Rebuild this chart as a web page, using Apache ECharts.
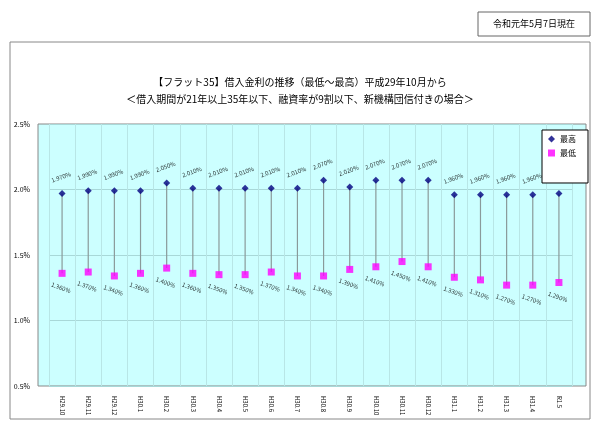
<!DOCTYPE html>
<html><head><meta charset="utf-8">
<script src="https://cdn.jsdelivr.net/npm/echarts@6/dist/echarts.min.js"></script>
<style>body{margin:0;background:#fff}#c{width:600px;height:424px}</style>
</head><body><div id="c"></div>
<script>
var months = ['H29.10','H29.11','H29.12','H30.1','H30.2','H30.3','H30.4','H30.5','H30.6','H30.7','H30.8','H30.9','H30.10','H30.11','H30.12','H31.1','H31.2','H31.3','H31.4','R1.5'];
var highRates = [1.97,1.99,1.99,1.99,2.05,2.01,2.01,2.01,2.01,2.01,2.07,2.02,2.07,2.07,2.07,1.96,1.96,1.96,1.96,1.97];
var lowRates = [1.36,1.37,1.34,1.36,1.40,1.36,1.35,1.35,1.37,1.34,1.34,1.39,1.41,1.45,1.41,1.33,1.31,1.27,1.27,1.29];

var chart = echarts.init(document.getElementById('c'));
var fmt = function (p) { return p.value.toFixed(3) + '%'; };
chart.setOption({
    animation: false,
    textStyle: {fontFamily: 'Noto Sans CJK JP'},
    graphic: [
        {type: 'rect', shape: {x: 478, y: 12, width: 112, height: 24}, style: {fill: '#fff', stroke: '#666', lineWidth: 1}},
        {type: 'text', x: 534, y: 24, style: {text: '令和元年5月7日現在', fontSize: 9, fill: '#000', align: 'center', verticalAlign: 'middle', fontFamily: 'Noto Sans CJK JP'}},
        {type: 'rect', shape: {x: 10, y: 42, width: 580, height: 377}, style: {fill: 'none', stroke: '#888', lineWidth: 1}, z: -1},
        {type: 'rect', shape: {x: 38, y: 124, width: 548, height: 262}, style: {fill: '#ccffff', stroke: '#888', lineWidth: 1}, z: -1},
        {type: 'text', x: 300, y: 82, style: {text: '【フラット35】借入金利の推移（最低～最高）平成29年10月から', fontSize: 10, fill: '#000', align: 'center', verticalAlign: 'middle', fontFamily: 'Noto Sans CJK JP'}},
        {type: 'text', x: 300, y: 99, style: {text: '＜借入期間が21年以上35年以下、融資率が9割以下、新機構団信付きの場合＞', fontSize: 10, fill: '#000', align: 'center', verticalAlign: 'middle', fontFamily: 'Noto Sans CJK JP'}}
    ],
    legend: {
        right: 12, top: 130, orient: 'vertical', itemWidth: 7, itemHeight: 7, itemGap: 6,
        backgroundColor: '#fff', borderColor: '#000', borderWidth: 1, padding: [5, 12, 26, 6],
        textStyle: {fontSize: 8, color: '#000'},
        data: [{name: '最高', icon: 'diamond'}, {name: '最低', icon: 'rect'}]
    },
    grid: {left: 49, right: 28, top: 124, bottom: 38},
    xAxis: {
        type: 'category', data: months,
        axisLine: {show: false},
        axisTick: {show: false},
        splitLine: {show: true, lineStyle: {color: '#b8e6e6'}},
        axisLabel: {rotate: -90, fontSize: 6, color: '#000', interval: 0, margin: 10}
    },
    yAxis: {
        type: 'value', min: 0.5, max: 2.5, interval: 0.5,
        offset: 11,
        axisLabel: {formatter: function (v) { return v.toFixed(1) + '%'; }, fontSize: 7, color: '#000'},
        axisLine: {show: false},
        splitLine: {lineStyle: {color: '#a8d8d8'}}
    },
    series: [
        {
            type: 'custom', silent: true,
            renderItem: function (params, api) {
                var a = api.coord([api.value(0), api.value(1)]);
                var b = api.coord([api.value(0), api.value(2)]);
                return {type: 'line', shape: {x1: a[0], y1: a[1], x2: b[0], y2: b[1]}, style: {stroke: '#8a9a9a', lineWidth: 1.2}};
            },
            data: months.map(function (m, i) { return [i, lowRates[i], highRates[i]]; })
        },
        {
            name: '最高', type: 'scatter', symbol: 'diamond', symbolSize: 7, data: highRates,
            itemStyle: {color: '#000080'},
            label: {show: true, position: 'top', distance: 10, rotate: 20, fontSize: 6, color: '#000', formatter: fmt}
        },
        {
            name: '最低', type: 'scatter', symbol: 'rect', symbolSize: 7, data: lowRates,
            itemStyle: {color: '#ff00ff'},
            label: {show: true, position: 'bottom', distance: 8, rotate: -20, fontSize: 6, color: '#000', formatter: fmt}
        }
    ]
});
</script></body></html>
